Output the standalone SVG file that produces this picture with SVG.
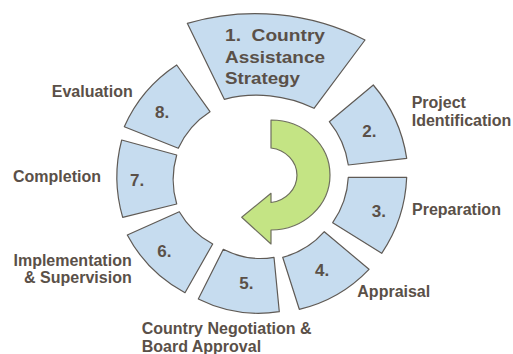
<svg xmlns="http://www.w3.org/2000/svg" width="513" height="354" viewBox="0 0 513 354">
  <style>
    .seg { fill: #c6dcef; stroke: #5f5a55; stroke-width: 1.2; stroke-linejoin: round; }
    .num { font-family: "Liberation Sans", Arial, sans-serif; font-weight: bold; font-size: 17px; fill: #5a5048; }
    .lbl { font-family: "Liberation Sans", Arial, sans-serif; font-weight: bold; font-size: 16px; fill: #5a5048; }
    .big { font-family: "Liberation Sans", Arial, sans-serif; font-weight: bold; font-size: 17px; fill: #5a5048; }
    .arrow { fill: #c4e484; stroke: #6e6e5e; stroke-width: 1.2; stroke-linejoin: round; }
  </style>
  <rect width="513" height="354" fill="#ffffff"/>

  <g id="connectors">
    <path class="arrow" d="M271,120 A59,55 0 0 1 271,230 L271,244 L241.7,217.3 L271,193.3 L271,202.5 A30,27.5 0 0 0 271,148 Z"/>
  </g>

  <g id="step1">
    <path class="seg" d="M187.3,23.3 A242,242 0 0 1 365,40 L314,108.3 A131,131 0 0 0 224.3,99.3 Z"/>
    <text class="big" x="225" y="40.7" textLength="100" lengthAdjust="spacingAndGlyphs" xml:space="preserve">1.  Country</text>
    <text class="big" x="225" y="63.3" textLength="100" lengthAdjust="spacingAndGlyphs">Assistance</text>
    <text class="big" x="225" y="84" textLength="75" lengthAdjust="spacingAndGlyphs">Strategy</text>
  </g>

  <g id="step2">
    <path class="seg" d="M373.3,85 A147,147 0 0 1 406.7,158.3 L348.3,165 A89,89 0 0 0 329.3,121.7 Z"/>
    <text class="num" x="362.3" y="136.7">2.</text>
    <text class="lbl" x="411.7" y="108.3">Project</text>
    <text class="lbl" x="411.7" y="126">Identification</text>
  </g>

  <g id="step3">
    <path class="seg" d="M406.7,177.3 A146,146 0 0 1 381.7,253.3 L332.7,222.7 A87,87 0 0 0 348.3,177.3 Z"/>
    <text class="num" x="371.7" y="217.3">3.</text>
    <text class="lbl" x="412" y="215">Preparation</text>
  </g>

  <g id="step4">
    <path class="seg" d="M369,269.3 A141,141 0 0 1 299.3,309.3 L282.7,257.3 A83,83 0 0 0 324.3,231.7 Z"/>
    <text class="num" x="315" y="276">4.</text>
    <text class="lbl" x="357.3" y="297">Appraisal</text>
  </g>

  <g id="step5">
    <path class="seg" d="M279.3,311.7 A136,136 0 0 1 198.3,299 L223.3,249.3 A81,81 0 0 0 274,257.3 Z"/>
    <text class="num" x="239.3" y="289.3">5.</text>
    <text class="lbl" x="141.7" y="333.5">Country Negotiation &amp;</text>
    <text class="lbl" x="141.7" y="352">Board Approval</text>
  </g>

  <g id="step6">
    <path class="seg" d="M185,292.7 A140,140 0 0 1 127.3,235 L179.3,211.7 A85,85 0 0 0 212.7,244 Z"/>
    <text class="num" x="157.3" y="256.7">6.</text>
    <text class="lbl" x="131.7" y="265.7" text-anchor="end">Implementation</text>
    <text class="lbl" x="131.7" y="283.3" text-anchor="end">&amp; Supervision</text>
  </g>

  <g id="step7">
    <path class="seg" d="M122.7,217.3 A144,144 0 0 1 121.7,140 L176.7,155 A87,87 0 0 0 176.7,204 Z"/>
    <text class="num" x="130" y="186">7.</text>
    <text class="lbl" x="101" y="182.3" text-anchor="end">Completion</text>
  </g>

  <g id="step8">
    <path class="seg" d="M124.3,126.7 A143,143 0 0 1 176.7,65 L210,111.7 A85,85 0 0 0 178.3,148.3 Z"/>
    <text class="num" x="155" y="118.3">8.</text>
    <text class="lbl" x="132.7" y="96.7" text-anchor="end">Evaluation</text>
  </g>
</svg>
